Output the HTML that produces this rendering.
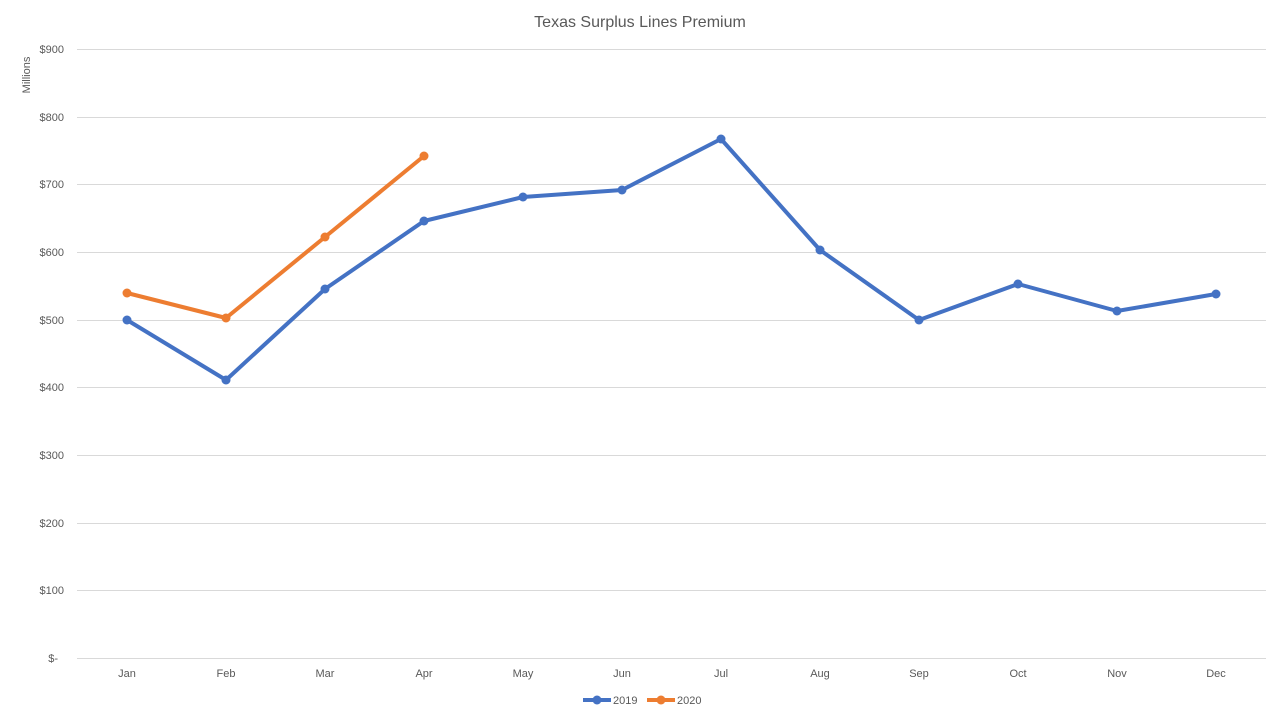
<!DOCTYPE html>
<html><head><meta charset="utf-8"><style>
html,body{margin:0;padding:0;background:#fff;}
svg{display:block;font-family:"Liberation Sans",sans-serif;}
</style></head><body>
<svg width="1280" height="720" viewBox="0 0 1280 720">
<text x="640" y="27" text-anchor="middle" font-size="16" fill="#595959">Texas Surplus Lines Premium</text>
<text transform="translate(30,75) rotate(-90)" text-anchor="middle" font-size="11" fill="#595959">Millions</text>
<g stroke="#d9d9d9" stroke-width="1">
<line x1="77" x2="1266" y1="49.5" y2="49.5"/>
<line x1="77" x2="1266" y1="117.5" y2="117.5"/>
<line x1="77" x2="1266" y1="184.5" y2="184.5"/>
<line x1="77" x2="1266" y1="252.5" y2="252.5"/>
<line x1="77" x2="1266" y1="320.5" y2="320.5"/>
<line x1="77" x2="1266" y1="387.5" y2="387.5"/>
<line x1="77" x2="1266" y1="455.5" y2="455.5"/>
<line x1="77" x2="1266" y1="523.5" y2="523.5"/>
<line x1="77" x2="1266" y1="590.5" y2="590.5"/>
<line x1="77" x2="1266" y1="658.5" y2="658.5"/>
</g>
<g font-size="11" fill="#595959" text-anchor="end">
<text x="64" y="53">$900</text>
<text x="64" y="121">$800</text>
<text x="64" y="188">$700</text>
<text x="64" y="256">$600</text>
<text x="64" y="324">$500</text>
<text x="64" y="391">$400</text>
<text x="64" y="459">$300</text>
<text x="64" y="527">$200</text>
<text x="64" y="594">$100</text>
<text x="58" y="662">$-</text>
</g>
<g font-size="11" fill="#595959" text-anchor="middle">
<text x="127" y="677">Jan</text><text x="226" y="677">Feb</text><text x="325" y="677">Mar</text>
<text x="424" y="677">Apr</text><text x="523" y="677">May</text><text x="622" y="677">Jun</text>
<text x="721" y="677">Jul</text><text x="820" y="677">Aug</text><text x="919" y="677">Sep</text>
<text x="1018" y="677">Oct</text><text x="1117" y="677">Nov</text><text x="1216" y="677">Dec</text>
</g>
<polyline fill="none" stroke="#4472c4" stroke-width="4" stroke-linejoin="round" points="127,320 226,380 325,289 424,221 523,197 622,190 721,139 820,250 919,320 1018,284 1117,311 1216,294"/>
<g fill="#4472c4">
<circle cx="127" cy="320" r="4.5"/><circle cx="226" cy="380" r="4.5"/><circle cx="325" cy="289" r="4.5"/><circle cx="424" cy="221" r="4.5"/><circle cx="523" cy="197" r="4.5"/><circle cx="622" cy="190" r="4.5"/><circle cx="721" cy="139" r="4.5"/><circle cx="820" cy="250" r="4.5"/><circle cx="919" cy="320" r="4.5"/><circle cx="1018" cy="284" r="4.5"/><circle cx="1117" cy="311" r="4.5"/><circle cx="1216" cy="294" r="4.5"/>
</g>
<polyline fill="none" stroke="#ed7d31" stroke-width="4" stroke-linejoin="round" points="127,293 226,318 325,237 424,156"/>
<g fill="#ed7d31">
<circle cx="127" cy="293" r="4.5"/><circle cx="226" cy="318" r="4.5"/><circle cx="325" cy="237" r="4.5"/><circle cx="424" cy="156" r="4.5"/>
</g>
<line x1="583" x2="611" y1="700" y2="700" stroke="#4472c4" stroke-width="4"/>
<circle cx="597" cy="700" r="4.5" fill="#4472c4"/>
<text x="613" y="704" font-size="11" fill="#595959">2019</text>
<line x1="647" x2="675" y1="700" y2="700" stroke="#ed7d31" stroke-width="4"/>
<circle cx="661" cy="700" r="4.5" fill="#ed7d31"/>
<text x="677" y="704" font-size="11" fill="#595959">2020</text>
</svg>
</body></html>
